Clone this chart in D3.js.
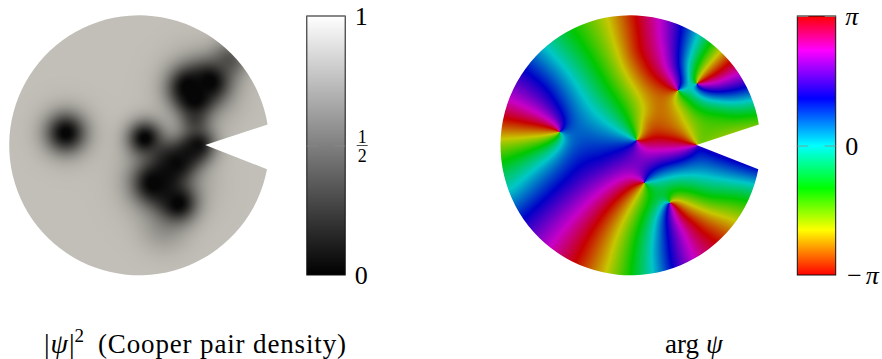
<!DOCTYPE html>
<html>
<head>
<meta charset="utf-8">
<style>
html, body { margin: 0; background: #fff; }
svg { display: block; }
text { font-family: "Liberation Serif", "DejaVu Serif", serif; fill: #000; }
.math { font-style: italic; }
</style>
<script src="https://cdn.jsdelivr.net/npm/d3@7"></script>
</head>
<body>
<script>
const PI = Math.PI

// All positions below are read off the picture, in disc units (disc spans 0..780 each way)
// density holes, the last few are the wide shallow halos
const holeX = [170, 407, 537, 602, 557, 557, 567, 502, 432, 507, 665, 465, 462, 470, 535, 470, 575, 470, 170]
const holeY = [353, 369, 214, 199, 250, 314, 389, 444, 504, 564, 130, 640, 414, 478, 415, 535, 220, 490, 353]
const holeWidth = [38, 36, 40, 40, 34, 30, 36, 38, 42, 38, 38, 50, 30, 32, 30, 32, 72, 80, 56]
const holeDepth = [1, 1, 1, 1, 1, 0.5, 0.9, 0.9, 1, 1, 0.5, 0.2, 0.35, 0.65, 0.65, 0.45, 0.38, 0.38, 0.25]
const densityFloor = 0.025

// phase vortices
const vortexX = [177, 408, 533, 590, 432, 508]
const vortexY = [350, 375, 225, 205, 502, 562]

// phase samples by colour band, each [x, y]
const redSamples = [[400, 5], [408, 105], [450, 175], [500, 213], [685, 135], [650, 170], [610, 195], [10, 315], [80, 330], [140, 343], [235, 725], [310, 595], [370, 535], [415, 510], [650, 675], [580, 620], [525, 575], [580, 387], [500, 370], [440, 375]]
const orangeSamples = [[480, 275], [490, 335], [440, 325]]
const yellowSamples = [[330, 10], [355, 105], [400, 215], [435, 285], [415, 350], [660, 110], [610, 165], [5, 365], [90, 360], [155, 353], [320, 765], [355, 645], [400, 555], [425, 515], [700, 615], [600, 580], [530, 555], [540, 285], [560, 335], [582, 380]]
const limeSamples = [[770, 330], [670, 350], [600, 380]]
const greenSamples = [[220, 55], [300, 175], [370, 285], [402, 350], [630, 85], [585, 165], [10, 435], [90, 405], [160, 365], [390, 780], [410, 655], [432, 525], [745, 555], [620, 545], [515, 525], [450, 505], [770, 295], [660, 295], [580, 275], [545, 240]]
const cyanSamples = [[140, 105], [220, 195], [280, 285], [350, 345], [395, 367], [590, 65], [560, 145], [560, 205], [755, 255], [650, 255], [590, 230], [40, 525], [120, 445], [185, 375], [460, 770], [460, 655], [490, 580], [765, 505], [580, 480], [450, 500]]
const skySamples = [[250, 355], [200, 405]]
const blueSamples = [[80, 165], [140, 215], [185, 295], [180, 340], [540, 45], [535, 125], [545, 200], [735, 215], [660, 230], [605, 220], [80, 595], [200, 495], [300, 435], [395, 385], [510, 745], [500, 635], [502, 580], [775, 465], [590, 405], [445, 490]]
const purpleSamples = [[580, 395], [490, 425], [430, 455]]
const magentaSamples = [[30, 255], [100, 285], [165, 330], [480, 25], [490, 105], [525, 200], [715, 180], [650, 205], [605, 210], [160, 675], [270, 555], [370, 485], [420, 495], [570, 725], [520, 605], [510, 575], [500, 405], [420, 390]]

// colour bar stops
const phaseStops = [-PI, -0.652 * PI, -0.33 * PI, 0, 0.364 * PI, 0.736 * PI, PI]
const phaseColors = ['#ff0000', '#ffff00', '#00ff00', '#00ffff', '#0000ff', '#ff00ff', '#ff0000']
const densityTicks = [0, 0.5, 1]
const phaseTicks = [-PI, 0, PI]
const captions = ['(Cooper pair density)', 'arg']

// pacman outline in disc units
const notchTip = [588, 389]
const notchUpperAngle = 9.2
const notchLowerAngle = -10.6
const discSize = 780
const dimming = 0.78
const smoothing = 4

const width = 882
const height = 359
const radius = 130
const discY = 145.3
const discs = [139.5, 630.5]
const barTop = 16
const barBottom = 275
const barWidth = 38.4
const barLeft = [306.8, 797.3]

const svg = d3.select('body').append('svg')
  .attr('width', width).attr('height', height)
const defs = svg.append('defs')

function discScales (cx) {
  return {
    x: d3.scaleLinear([0, discSize], [cx - radius, cx + radius]),
    y: d3.scaleLinear([0, discSize], [discY - radius, discY + radius])
  }
}

function outline (cx) {
  const s = discScales(cx)
  const tipX = s.x(notchTip[0])
  const tipY = s.y(notchTip[1])
  const a0 = -notchUpperAngle * PI / 180
  const a1 = -notchLowerAngle * PI / 180
  const p = d3.path()
  p.moveTo(tipX, tipY)
  p.lineTo(cx + radius * Math.cos(a0), discY + radius * Math.sin(a0))
  p.arc(cx, discY, radius, a0, a1, true)
  p.closePath()
  return p.toString()
}

// fills a canvas with one colour per pixel and puts it in the svg, clipped to the pacman
function drawField (cx, id, colorAt) {
  const s = discScales(cx)
  const size = radius * 2 + 2
  const x0 = Math.floor(cx - radius) - 1
  const y0 = Math.floor(discY - radius) - 1
  const canvas = document.createElement('canvas')
  canvas.width = size
  canvas.height = size
  const ctx = canvas.getContext('2d')
  const img = ctx.createImageData(size, size)
  for (let j = 0; j < size; j++) {
    for (let i = 0; i < size; i++) {
      const c = colorAt(s.x.invert(x0 + i + 0.5), s.y.invert(y0 + j + 0.5))
      const k = (j * size + i) * 4
      img.data[k] = c.r
      img.data[k + 1] = c.g
      img.data[k + 2] = c.b
      img.data[k + 3] = 255
    }
  }
  ctx.putImageData(img, 0, 0)
  defs.append('clipPath').attr('id', id).append('path').attr('d', outline(cx))
  svg.append('image')
    .attr('x', x0).attr('y', y0)
    .attr('width', size).attr('height', size)
    .attr('href', canvas.toDataURL())
    .attr('clip-path', 'url(#' + id + ')')
}

// density, the colour stays black below the floor so the cores come out as flat dark patches
const densityColor = d3.scaleLinear([densityFloor, 1], ['#060606', '#c1bfb7']).clamp(true)
function density (x, y) {
  let v = 1
  holeX.forEach((hx, i) => {
    const dx = x - hx
    const dy = y - holeY[i]
    v *= 1 - holeDepth[i] * Math.exp(-(dx * dx + dy * dy) / (2 * holeWidth[i] * holeWidth[i]))
  })
  return v
}
drawField(discs[0] - 0.3, 'clip-density', (x, y) => d3.rgb(densityColor(density(x, y))))

// phase: vortices plus a smooth part fitted to the colour band samples
const phaseColor = d3.scaleLinear(phaseStops, phaseColors)
function vortexPhase (x, y) {
  let a = 0
  vortexX.forEach((vx, i) => { a += Math.atan2(vortexY[i] - y, x - vx) })
  return a
}
// sqrt map around the notch tip, so the two faces of the notch sit far apart
function unfold (x, y) {
  const dx = x - notchTip[0]
  const dy = notchTip[1] - y
  let a = Math.atan2(dy, dx)
  if (a < 0) a += 2 * PI
  const r = Math.sqrt(Math.hypot(dx, dy))
  return [r * Math.cos(a / 2), r * Math.sin(a / 2)]
}
const bands = [
  [redSamples, PI], [orangeSamples, -0.83 * PI], [yellowSamples, phaseStops[1]],
  [limeSamples, -0.5 * PI], [greenSamples, phaseStops[2]], [cyanSamples, 0],
  [skySamples, 0.2 * PI], [blueSamples, phaseStops[4]], [purpleSamples, 0.55 * PI],
  [magentaSamples, phaseStops[5]]
]
const samples = []
bands.forEach(([pts, phase]) => {
  pts.forEach(([x, y]) => {
    const r = phase - vortexPhase(x, y)
    samples.push({ u: unfold(x, y), c: Math.cos(r), s: Math.sin(r) })
  })
})

function kernel (a, b) {
  const du = a[0] - b[0]
  const dv = a[1] - b[1]
  const d = du * du + dv * dv
  return d > 0 ? 0.5 * d * Math.log(d) : 0
}

// smoothing thin plate spline over the samples, two right hand sides
function fitSpline () {
  const n = samples.length
  const m = n + 3
  const A = []
  for (let i = 0; i < m; i++) {
    const row = new Array(m + 2).fill(0)
    if (i < n) {
      for (let j = 0; j < n; j++) row[j] = kernel(samples[i].u, samples[j].u)
      row[i] += smoothing
      row[n] = 1
      row[n + 1] = samples[i].u[0]
      row[n + 2] = samples[i].u[1]
      row[m] = samples[i].c
      row[m + 1] = samples[i].s
    } else {
      for (let j = 0; j < n; j++) row[j] = i === n ? 1 : samples[j].u[i - n - 1]
    }
    A.push(row)
  }
  for (let c = 0; c < m; c++) {
    let best = c
    for (let r = c + 1; r < m; r++) if (Math.abs(A[r][c]) > Math.abs(A[best][c])) best = r
    const t = A[c]; A[c] = A[best]; A[best] = t
    for (let r = 0; r < m; r++) {
      if (r === c) continue
      const f = A[r][c] / A[c][c]
      if (f === 0) continue
      for (let k = c; k < m + 2; k++) A[r][k] -= f * A[c][k]
    }
  }
  return { c: A.map((r, i) => r[m] / r[i]), s: A.map((r, i) => r[m + 1] / r[i]) }
}
const spline = fitSpline()

function phase (x, y) {
  const u = unfold(x, y)
  const n = samples.length
  let c = spline.c[n] + spline.c[n + 1] * u[0] + spline.c[n + 2] * u[1]
  let s = spline.s[n] + spline.s[n + 1] * u[0] + spline.s[n + 2] * u[1]
  for (let i = 0; i < n; i++) {
    const k = kernel(u, samples[i].u)
    c += spline.c[i] * k
    s += spline.s[i] * k
  }
  let a = (vortexPhase(x, y) + Math.atan2(s, c)) % (2 * PI)
  if (a > PI) a -= 2 * PI
  if (a < -PI) a += 2 * PI
  return a
}
drawField(discs[1], 'clip-phase', (x, y) => {
  const c = d3.rgb(phaseColor(phase(x, y)))
  return { r: c.r * dimming, g: c.g * dimming, b: c.b * dimming }
})

// colour bars
function colorBar (left, id, domain, colors, ticks, format) {
  const y = d3.scaleLinear([domain[0], domain[domain.length - 1]], [barBottom, barTop])
  const grad = defs.append('linearGradient').attr('id', id)
    .attr('x1', 0).attr('x2', 0).attr('y1', 1).attr('y2', 0)
  grad.selectAll('stop').data(domain).join('stop')
    .attr('offset', d => (barBottom - y(d)) / (barBottom - barTop))
    .attr('stop-color', (d, i) => colors[i])
  svg.append('rect')
    .attr('x', left).attr('y', barTop)
    .attr('width', barWidth).attr('height', barBottom - barTop)
    .attr('fill', 'url(#' + id + ')')
    .attr('stroke', '#111').attr('stroke-width', 1)
  const tickLeft = svg.append('g').attr('transform', 'translate(' + left + ',0)')
    .call(d3.axisLeft(y).tickValues(ticks).tickSize(-11).tickFormat(''))
  const tickRight = svg.append('g').attr('transform', 'translate(' + (left + barWidth) + ',0)')
    .call(d3.axisRight(y).tickValues(ticks).tickSize(-11).tickFormat(format))
  ;[tickLeft, tickRight].forEach(g => {
    g.select('.domain').remove()
    g.selectAll('line').attr('stroke', '#888').attr('stroke-width', 0.8)
  })
  tickRight.selectAll('text')
    .attr('x', 9.5).attr('dy', '0.33em')
    .attr('text-anchor', 'start')
    .style('font-size', '26px').style('font-family', null)
  return { y: y, ticks: tickRight }
}

const densityBar = colorBar(barLeft[0], 'grad-density', [0, 1], ['#000000', '#ffffff'], densityTicks,
  d => d === 0.5 ? '' : d)
const fracX = barLeft[0] + barWidth + 17
const fracY = densityBar.y(0.5)
svg.append('line')
  .attr('x1', fracX - 5.5).attr('x2', fracX + 5.5)
  .attr('y1', fracY).attr('y2', fracY)
  .attr('stroke', '#222').attr('stroke-width', 0.8)
svg.selectAll('text.frac').data(['1', '2']).join('text')
  .attr('class', 'frac')
  .attr('x', fracX)
  .attr('y', (d, i) => fracY + (i === 0 ? -3 : 16))
  .attr('text-anchor', 'middle')
  .style('font-size', '18px')
  .text(d => d)

const phaseBar = colorBar(barLeft[1], 'grad-phase', phaseStops, phaseColors, phaseTicks,
  d => d === 0 ? '0' : (d < 0 ? '\u2212\u03c0' : '\u03c0'))
phaseBar.ticks.selectAll('text').filter(d => d !== 0).classed('math', true)
  .style('letter-spacing', d => d < 0 ? '3px' : null)

// captions
const cap1 = svg.append('text').attr('x', 44).attr('y', 353).style('font-size', '28px')
cap1.append('tspan').text('|')
cap1.append('tspan').attr('class', 'math').attr('dx', 1).text('\u03c8')
cap1.append('tspan').attr('dx', 1).text('|')
cap1.append('tspan').attr('dy', -11).style('font-size', '19px').text('2')
svg.append('text').attr('x', 98).attr('y', 353).style('font-size', '27px')
  .attr('textLength', 248).attr('lengthAdjust', 'spacing')
  .text(captions[0])

const cap2 = svg.append('text').attr('x', 665).attr('y', 353).style('font-size', '27px')
cap2.append('tspan').text(captions[1])
cap2.append('tspan').attr('class', 'math').attr('dx', 7).text('\u03c8')
</script>
</body>
</html>
